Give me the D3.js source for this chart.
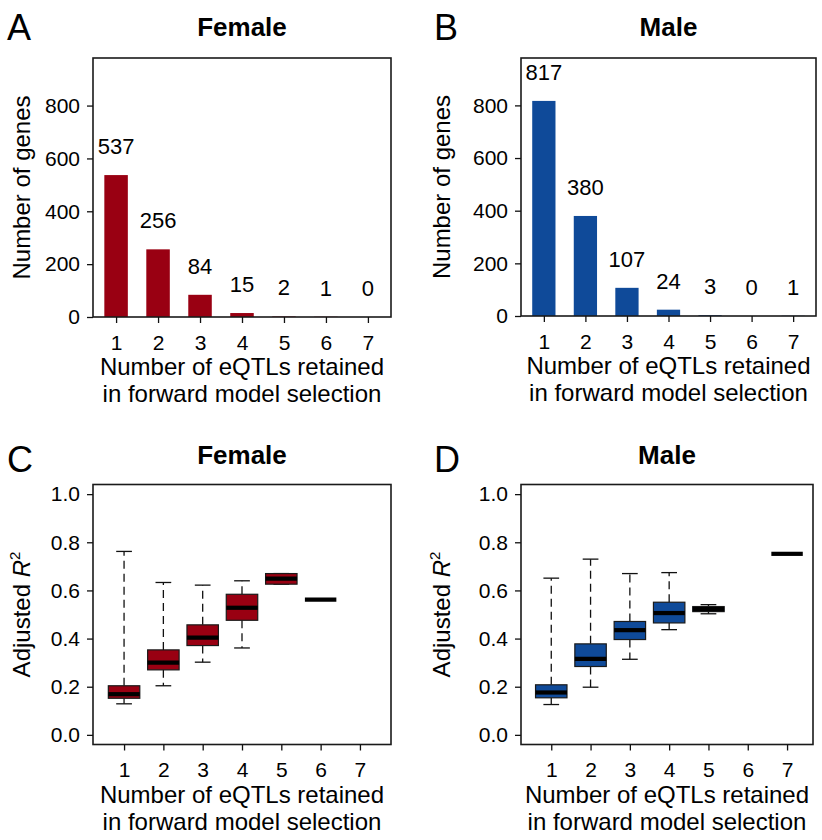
<!DOCTYPE html>
<html><head><meta charset="utf-8">
<script src="https://cdn.jsdelivr.net/npm/d3@7"></script>
<style>
body{margin:0;background:#fff}
svg{display:block}
text{font-family:"Liberation Sans",Arial,Helvetica,sans-serif;fill:#000}
</style>
</head><body>
<svg id="chart" width="822" height="840"></svg>
<script>
// ---------- data ----------
const eqtlCounts = [1, 2, 3, 4, 5, 6, 7];
const femaleGenes = [537, 256, 84, 15, 2, 1, 0];
const maleGenes = [817, 380, 107, 24, 3, 0, 1];
const geneTicks = [0, 200, 400, 600, 800];
const r2Ticks = [0, 0.2, 0.4, 0.6, 0.8, 1.0];

// adjusted R^2 box statistics per number of eQTLs (null = no genes)
const femaleR2Min    = [0.129, 0.204, 0.302, 0.361, 0.626, 0.562, null];
const femaleR2Q1     = [0.152, 0.270, 0.371, 0.476, 0.626, 0.562, null];
const femaleR2Median = [0.169, 0.300, 0.404, 0.528, 0.649, 0.562, null];
const femaleR2Q3     = [0.204, 0.353, 0.457, 0.584, 0.670, 0.562, null];
const femaleR2Max    = [0.762, 0.633, 0.622, 0.640, 0.670, 0.562, null];

const maleR2Min    = [0.126, 0.198, 0.314, 0.437, 0.503, null, 0.752];
const maleR2Q1     = [0.154, 0.284, 0.396, 0.465, 0.512, null, 0.752];
const maleR2Median = [0.176, 0.316, 0.435, 0.506, 0.522, null, 0.752];
const maleR2Q3     = [0.208, 0.378, 0.471, 0.551, 0.533, null, 0.752];
const maleR2Max    = [0.651, 0.730, 0.670, 0.674, 0.541, null, 0.752];

const femaleColor = "#990012";
const maleColor = "#0f4a99";

// ---------- drawing ----------
const svg = d3.select("#chart");
const FONT_TICK = 21, FONT_LAB = 24;

function panelText(letter, title, box, lx) {
  svg.append("text").attr("x", lx).attr("y", box.letterY)
    .attr("font-size", 36).text(letter);
  svg.append("text").attr("x", (box.left + box.right) / 2).attr("y", box.titleY)
    .attr("text-anchor", "middle").attr("font-size", 26).attr("font-weight", "bold").text(title);
  const g = svg.append("g");
  g.append("text").attr("text-anchor", "middle").attr("font-size", FONT_LAB)
    .attr("x", (box.left + box.right) / 2).attr("y", box.bottom + 58).text("Number of eQTLs retained");
  g.append("text").attr("text-anchor", "middle").attr("font-size", FONT_LAB)
    .attr("x", (box.left + box.right) / 2).attr("y", box.bottom + 85).text("in forward model selection");
}

function styleAxis(g) {
  g.select(".domain").remove();
  g.selectAll(".tick line").attr("stroke", "#111").attr("stroke-width", 1.3);
  g.selectAll(".tick text").attr("font-size", FONT_TICK).attr("fill", "#000")
    .attr("font-family", '"Liberation Sans",Arial,Helvetica,sans-serif');
}

function frame(box) {
  svg.append("rect").attr("x", box.left).attr("y", box.top)
    .attr("width", box.right - box.left).attr("height", box.bottom - box.top)
    .attr("fill", "none").attr("stroke", "#1a1a1a").attr("stroke-width", 1.6);
}

function barPanel(box, counts, color, letter, title, lx) {
  const x = d3.scaleLinear().domain([0.45, 7.55]).range([box.left, box.right]);
  const y = d3.scaleLinear().domain([0, 980]).range([box.bottom, box.top]);
  const bw = x(1.56) - x(1);
  svg.append("g").selectAll("rect").data(counts).join("rect")
    .attr("x", (d, i) => x(eqtlCounts[i]) - bw / 2)
    .attr("y", d => y(d))
    .attr("width", bw)
    .attr("height", d => y(0) - y(d))
    .attr("fill", color);
  svg.append("g").selectAll("text").data(counts).join("text")
    .attr("x", (d, i) => x(eqtlCounts[i]))
    .attr("y", d => y(d + 80))
    .attr("text-anchor", "middle").attr("font-size", 22)
    .text(d => d);
  frame(box);
  svg.append("g").attr("transform", `translate(${box.left},0)`)
    .call(d3.axisLeft(y).tickValues(geneTicks).tickSize(6).tickPadding(7).tickFormat(d3.format("d")))
    .call(styleAxis);
  svg.append("g").attr("transform", `translate(0,${box.bottom})`)
    .call(d3.axisBottom(x).tickValues(eqtlCounts).tickSize(6).tickPadding(12).tickFormat(d3.format("d")))
    .call(styleAxis);
  svg.append("text").attr("transform", `translate(${box.ylabX},${(box.top + box.bottom) / 2}) rotate(-90)`)
    .attr("text-anchor", "middle").attr("font-size", FONT_LAB).text("Number of genes");
  panelText(letter, title, box, lx);
}

function boxPanel(box, xDomain, mins, q1s, meds, q3s, maxs, color, letter, title, lx) {
  const x = d3.scaleLinear().domain(xDomain).range([box.left, box.right]);
  const y = d3.scaleLinear().domain([-0.04, 1.04]).range([box.bottom, box.top]);
  const stats = eqtlCounts.map((k, i) => ({k, min: mins[i], q1: q1s[i], med: meds[i], q3: q3s[i], max: maxs[i]}))
    .filter(d => d.med !== null);
  const g = svg.append("g");
  const b = g.selectAll("g").data(stats).join("g");
  // whiskers
  b.append("line").attr("x1", d => x(d.k)).attr("x2", d => x(d.k))
    .attr("y1", d => y(d.q3)).attr("y2", d => y(d.max))
    .attr("stroke", "#111").attr("stroke-width", 1.3).attr("stroke-dasharray", "8,5");
  b.append("line").attr("x1", d => x(d.k)).attr("x2", d => x(d.k))
    .attr("y1", d => y(d.q1)).attr("y2", d => y(d.min))
    .attr("stroke", "#111").attr("stroke-width", 1.3).attr("stroke-dasharray", "8,5");
  // caps
  ["max", "min"].forEach(key => {
    b.append("line").attr("x1", d => x(d.k - 0.2)).attr("x2", d => x(d.k + 0.2))
      .attr("y1", d => y(d[key])).attr("y2", d => y(d[key]))
      .attr("stroke", "#111").attr("stroke-width", 1.3);
  });
  // box
  b.append("rect").attr("x", d => x(d.k - 0.4)).attr("width", d => x(d.k + 0.4) - x(d.k - 0.4))
    .attr("y", d => y(d.q3)).attr("height", d => y(d.q1) - y(d.q3))
    .attr("fill", color).attr("stroke", "#1a1a1a").attr("stroke-width", 1.2);
  // median
  b.append("line").attr("x1", d => x(d.k - 0.4)).attr("x2", d => x(d.k + 0.4))
    .attr("y1", d => y(d.med)).attr("y2", d => y(d.med))
    .attr("stroke", "#000").attr("stroke-width", 4.2);
  frame(box);
  svg.append("g").attr("transform", `translate(${box.left},0)`)
    .call(d3.axisLeft(y).tickValues(r2Ticks).tickSize(6).tickPadding(7).tickFormat(d3.format(".1f")))
    .call(styleAxis);
  svg.append("g").attr("transform", `translate(0,${box.bottom})`)
    .call(d3.axisBottom(x).tickValues(eqtlCounts).tickSize(6).tickPadding(12).tickFormat(d3.format("d")))
    .call(styleAxis);
  const t = svg.append("text").attr("transform", `translate(${box.ylabX},${(box.top + box.bottom) / 2}) rotate(-90)`)
    .attr("text-anchor", "middle").attr("font-size", FONT_LAB);
  t.append("tspan").text("Adjusted ");
  t.append("tspan").attr("font-style", "italic").text("R");
  t.append("tspan").attr("font-size", 15).attr("dy", -10).text("2");
  panelText(letter, title, box, lx);
}

barPanel({left: 93, right: 391, top: 58, bottom: 317, ylabX: 30, letterY: 40, titleY: 36},
  femaleGenes, femaleColor, "A", "Female", 7);
barPanel({left: 521, right: 816, top: 58, bottom: 316, ylabX: 450, letterY: 40, titleY: 36},
  maleGenes, maleColor, "B", "Male", 434);
boxPanel({left: 93, right: 391, top: 484.5, bottom: 744.5, ylabX: 30, letterY: 472, titleY: 464},
  [0.21, 7.79], femaleR2Min, femaleR2Q1, femaleR2Median, femaleR2Q3, femaleR2Max, femaleColor, "C", "Female", 7);
boxPanel({left: 521, right: 813, top: 484.5, bottom: 744.5, ylabX: 450, letterY: 472, titleY: 464},
  [0.23, 7.66], maleR2Min, maleR2Q1, maleR2Median, maleR2Q3, maleR2Max, maleColor, "D", "Male", 434);
</script>
</body></html>
